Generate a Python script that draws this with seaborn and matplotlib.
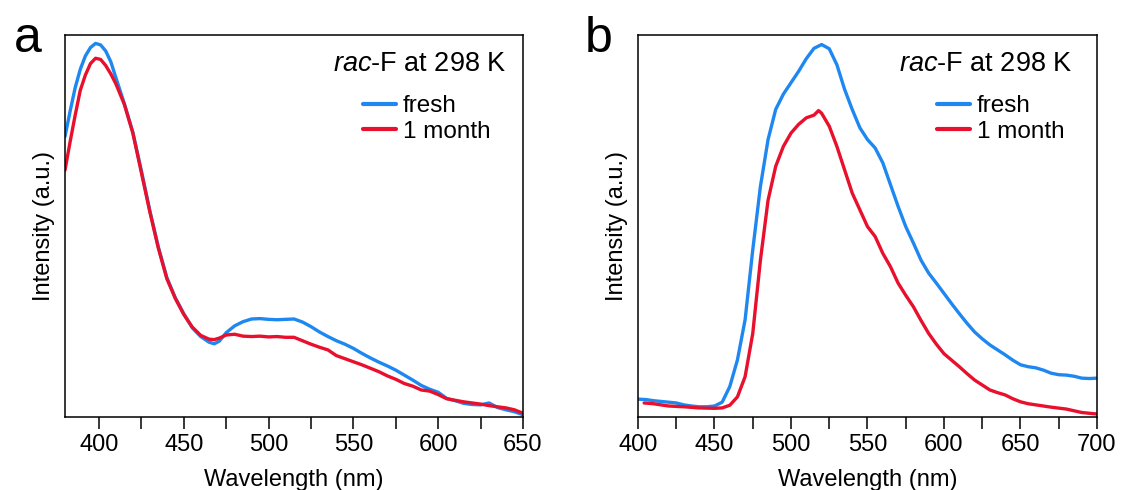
import numpy as np
import pandas as pd
import matplotlib
matplotlib.use("Agg")
import matplotlib.pyplot as plt
import seaborn as sns
from matplotlib.ticker import MultipleLocator

# --- data (normalised intensity, 0 = axis bottom) ---
wl_a = [380, 383, 386, 389, 392, 395, 398, 401, 404, 407, 410, 415, 420, 425,
        430, 435, 440, 445, 450, 455, 460, 465, 468, 471, 475, 480, 485, 490,
        495, 500, 505, 510, 515, 520, 525, 530, 535, 540, 545, 550, 555, 560,
        565, 570, 575, 580, 585, 590, 595, 600, 605, 610, 615, 620, 625, 630,
        635, 640, 645, 650]
fresh_a = [0.734, 0.800, 0.862, 0.910, 0.945, 0.967, 0.978, 0.974, 0.958, 0.930,
           0.888, 0.820, 0.745, 0.645, 0.540, 0.445, 0.365, 0.312, 0.270, 0.233,
           0.210, 0.195, 0.191, 0.198, 0.220, 0.238, 0.249, 0.256, 0.257, 0.255,
           0.254, 0.255, 0.256, 0.248, 0.236, 0.222, 0.210, 0.199, 0.190, 0.179,
           0.166, 0.154, 0.143, 0.133, 0.122, 0.109, 0.096, 0.082, 0.072, 0.064,
           0.048, 0.042, 0.035, 0.032, 0.031, 0.036, 0.024, 0.018, 0.013, 0.005]
month_a = [0.646, 0.720, 0.790, 0.855, 0.895, 0.925, 0.939, 0.936, 0.920, 0.898,
           0.872, 0.818, 0.743, 0.640, 0.537, 0.442, 0.362, 0.310, 0.268, 0.235,
           0.213, 0.203, 0.202, 0.206, 0.214, 0.216, 0.211, 0.210, 0.211, 0.209,
           0.210, 0.208, 0.208, 0.199, 0.190, 0.182, 0.175, 0.160, 0.152, 0.144,
           0.136, 0.127, 0.118, 0.107, 0.098, 0.087, 0.080, 0.070, 0.067, 0.058,
           0.047, 0.043, 0.039, 0.036, 0.033, 0.029, 0.026, 0.023, 0.018, 0.009]

wl_b = [400, 405, 410, 415, 420, 425, 430, 435, 440, 445, 450, 455, 460, 465,
        470, 475, 480, 485, 490, 495, 500, 505, 510, 515, 520, 525, 530, 535,
        540, 545, 550, 555, 560, 565, 570, 575, 580, 585, 590, 595, 600, 605,
        610, 615, 620, 625, 630, 635, 640, 645, 650, 655, 660, 665, 670, 675,
        680, 685, 690, 695, 700]
fresh_b = [0.046, 0.045, 0.042, 0.040, 0.038, 0.036, 0.031, 0.028, 0.026, 0.026,
           0.028, 0.038, 0.079, 0.149, 0.254, 0.437, 0.603, 0.726, 0.805, 0.845,
           0.875, 0.905, 0.938, 0.965, 0.975, 0.964, 0.922, 0.858, 0.805, 0.757,
           0.726, 0.704, 0.665, 0.608, 0.551, 0.498, 0.455, 0.410, 0.376, 0.350,
           0.323, 0.296, 0.270, 0.245, 0.222, 0.204, 0.188, 0.175, 0.162, 0.148,
           0.136, 0.131, 0.128, 0.122, 0.114, 0.110, 0.109, 0.106, 0.101, 0.100,
           0.101]
wl_b_month = [404, 410, 415, 420, 430, 440, 450, 455, 460, 465, 470, 475, 480,
              485, 490, 495, 500, 505, 510, 515, 518, 520, 525, 530, 535, 540,
              545, 550, 555, 560, 565, 570, 575, 580, 585, 590, 595, 600, 605,
              610, 615, 620, 625, 630, 635, 640, 645, 650, 655, 660, 670, 680,
              690, 700]
month_b = [0.036, 0.034, 0.031, 0.028, 0.026, 0.023, 0.022, 0.023, 0.030, 0.052,
           0.105, 0.218, 0.410, 0.567, 0.656, 0.708, 0.743, 0.766, 0.783, 0.790,
           0.802, 0.795, 0.761, 0.708, 0.647, 0.586, 0.542, 0.498, 0.472, 0.428,
           0.393, 0.350, 0.318, 0.288, 0.252, 0.218, 0.190, 0.165, 0.148, 0.131,
           0.113, 0.096, 0.083, 0.070, 0.063, 0.057, 0.047, 0.039, 0.034, 0.031,
           0.025, 0.020, 0.011, 0.007]

labels = ["fresh", "1 month"]
colors = {"fresh": "#1e88f0", "1 month": "#e8102c"}

sns.set_style("ticks")
plt.rcParams["font.family"] = ["Liberation Sans", "DejaVu Sans"]
plt.rcParams["mathtext.fontset"] = "custom"
plt.rcParams["mathtext.it"] = "Liberation Sans:italic"
plt.rcParams["mathtext.rm"] = "Liberation Sans"
plt.rcParams["text.color"] = "black"
plt.rcParams["axes.labelcolor"] = "black"
plt.rcParams["xtick.color"] = "black"
plt.rcParams["ytick.color"] = "black"

fig = plt.figure(figsize=(11.21, 4.9), dpi=100)
ax_a = fig.add_axes([65 / 1121, 1 - 416.7 / 490, 458 / 1121, 381.7 / 490])
ax_b = fig.add_axes([638 / 1121, 1 - 416.7 / 490, 459 / 1121, 381.7 / 490])

df_a = pd.concat([
    pd.DataFrame({"wl": wl_a, "I": fresh_a, "sample": "fresh"}),
    pd.DataFrame({"wl": wl_a, "I": month_a, "sample": "1 month"}),
])
df_b = pd.concat([
    pd.DataFrame({"wl": wl_b, "I": fresh_b, "sample": "fresh"}),
    pd.DataFrame({"wl": wl_b_month, "I": month_b, "sample": "1 month"}),
])

panels = [
    (ax_a, df_a, (380, 650), 0.965, 0.650),
    (ax_b, df_b, (400, 700), 0.946, 0.651),
]
for ax, df, xlim, title_x, leg_x in panels:
    sns.lineplot(data=df, x="wl", y="I", hue="sample", hue_order=labels,
                 palette=colors, linewidth=2.4, ax=ax, sort=True,
                 estimator=None, legend=True)
    ax.set_xlim(*xlim)
    ax.set_ylim(0, 1.0)
    ax.set_yticks([])
    ax.xaxis.set_major_locator(MultipleLocator(50))
    ax.xaxis.set_minor_locator(MultipleLocator(25))
    ax.tick_params(axis="x", which="both", direction="out", length=8.5,
                   width=1.1, color="black", labelsize=17, pad=4)
    for sp in ax.spines.values():
        sp.set_linewidth(1.1)
        sp.set_color("black")
    ax.set_xlabel("Wavelength (nm)", fontsize=17, labelpad=9)
    ax.set_ylabel("Intensity (a.u.)", fontsize=17, labelpad=7)
    ax.text(title_x, 0.925, r"$\mathit{rac}$-F at 298 K", transform=ax.transAxes,
            ha="right", va="center", fontsize=19.5)
    handles, labs = ax.get_legend_handles_labels()
    ax.legend(handles, labs, loc="upper left", bbox_to_anchor=(leg_x, 0.842),
              frameon=False, fontsize=17.5, handlelength=1.35, handletextpad=0.3,
              labelspacing=0.15, borderpad=0, borderaxespad=0)
    for line in ax.get_legend().get_lines():
        line.set_linewidth(3)

fig.text(14 / 1121, 1 - 52 / 490, "a", fontsize=36, va="baseline", ha="left")
fig.text(585 / 1121, 1 - 52 / 490, "b", fontsize=36, va="baseline", ha="left")

fig.savefig("out.png", dpi=100)
